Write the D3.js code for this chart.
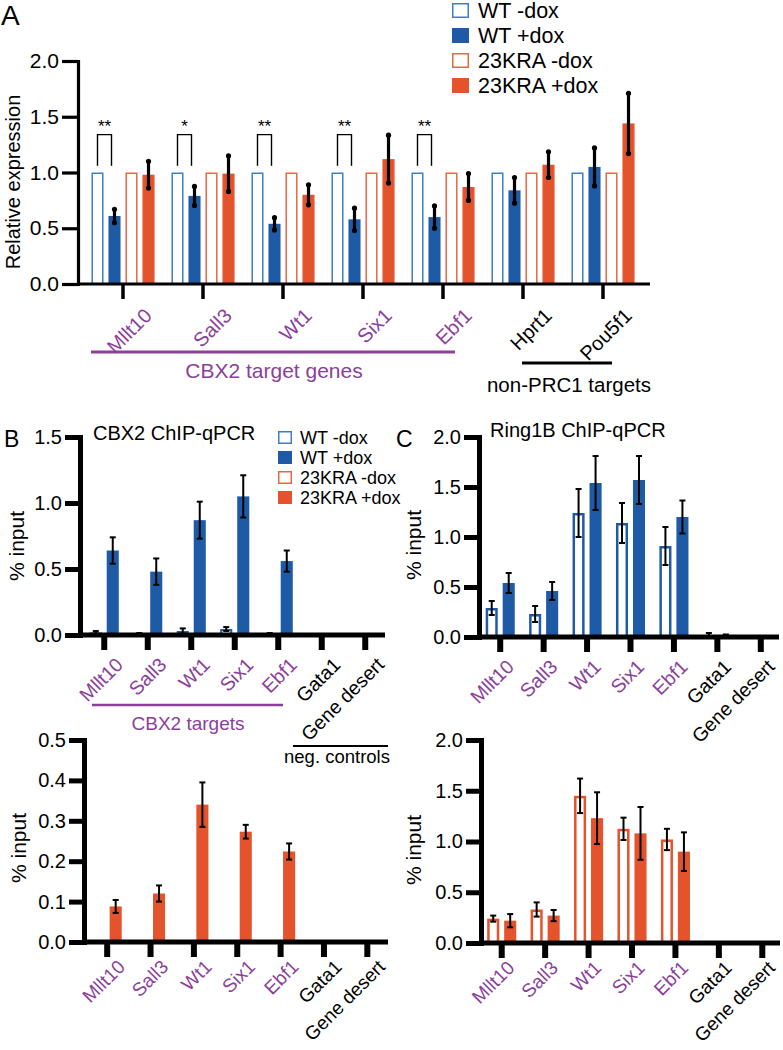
<!DOCTYPE html>
<html><head><meta charset="utf-8">
<script src="https://cdn.jsdelivr.net/npm/d3@7/dist/d3.min.js"></script>
<style>body{margin:0;background:#fff}svg{display:block}</style>
</head><body>
<script>
// ---------------- DATA ----------------
const genesA = ["Mllt10","Sall3","Wt1","Six1","Ebf1","Hprt1","Pou5f1"];
const seriesA = ["WT -dox","WT +dox","23KRA -dox","23KRA +dox"];
const wtMinusA = [1,1,1,1,1,1,1];
const wtPlusA = [0.61,0.79,0.54,0.58,0.60,0.84,1.05];
const wtPlusErrA = [0.06,0.085,0.055,0.10,0.10,0.115,0.17];
const kraMinusA = [1,1,1,1,1,1,1];
const kraPlusA = [0.98,0.99,0.80,1.12,0.87,1.07,1.44];
const kraPlusErrA = [0.12,0.16,0.09,0.215,0.12,0.115,0.27];
const sigA = ["**","*","**","**","**","",""];
const ticksA = [0,0.5,1,1.5,2];

const chipGenes = ["Mllt10","Sall3","Wt1","Six1","Ebf1","Gata1","Gene desert"];
const cbx2WtMinus = [0.02,0.01,0.03,0.045,0.01,0.005,0];
const cbx2WtMinusErr = [0.01,0.005,0.02,0.015,0.005,0.002,0];
const cbx2WtPlus = [0.64,0.48,0.87,1.05,0.56,0.003,0];
const cbx2WtPlusErr = [0.10,0.10,0.14,0.16,0.08,0.002,0];
const cbx2KraPlus = [0.088,0.12,0.34,0.273,0.224,0.002,0];
const cbx2KraPlusErr = [0.016,0.02,0.055,0.017,0.02,0,0];
const ring1bWtMinus = [0.29,0.23,1.24,1.14,0.91,0.01,0];
const ring1bWtMinusErr = [0.07,0.08,0.24,0.20,0.19,0.03,0];
const ring1bWtPlus = [0.54,0.46,1.54,1.57,1.20,0.02,0];
const ring1bWtPlusErr = [0.10,0.09,0.27,0.24,0.165,0.005,0];
const ring1bKraMinus = [0.24,0.33,1.45,1.125,1.02,0.01,0];
const ring1bKraMinusErr = [0.03,0.07,0.17,0.11,0.105,0,0];
const ring1bKraPlus = [0.22,0.27,1.23,1.08,0.90,0.01,0];
const ring1bKraPlusErr = [0.065,0.055,0.255,0.26,0.19,0,0];
const ticksB1 = [0,0.5,1,1.5];
const ticksB2 = [0,0.1,0.2,0.3,0.4,0.5];
const ticksC = [0,0.5,1,1.5,2];
const targetCount = 5;

// ---------------- STYLE ----------------
const FONT = "'Liberation Sans', Arial, Helvetica, sans-serif";
const BLUE = "#1f5aa6", BLUE_LIGHT = "#3f7dca";
const ORANGE = "#e4532b", ORANGE_LIGHT = "#ea6644";
const PURPLE = "#8b3f9b";

const svg = d3.select("body").append("svg").attr("width",783).attr("height",1050)
  .style("font-family", FONT);

function txt(x, y, s, size, opts={}) {
  const t = svg.append("text").attr("x",x).attr("y",y).text(s)
    .attr("font-size",size).attr("fill",opts.fill||"#000")
    .attr("text-anchor",opts.anchor||"start");
  if (opts.rotate) t.attr("transform",`rotate(${opts.rotate},${x},${y})`);
  return t;
}

function yAxis(scale, x, ticks, fmt, sw, tickLen, fs) {
  const ax = d3.axisLeft(scale).tickValues(ticks).tickFormat(fmt)
    .tickSize(tickLen).tickSizeOuter(0).tickPadding(3);
  const a = svg.append("g").attr("transform",`translate(${x},0)`).call(ax)
    .attr("font-family", FONT).attr("font-size", fs);
  a.select(".domain").attr("stroke","#000").attr("stroke-width",sw).attr("stroke-linecap","square");
  a.selectAll(".tick line").attr("stroke","#000").attr("stroke-width",sw);
  a.selectAll(".tick text").attr("fill","#000");
  return a;
}

function xAxis(band, y0, xStart, xEnd, sw, tickW, tickLen, fs, labelColor, off) {
  const ax = d3.axisBottom(band).tickSize(tickLen).tickSizeOuter(0);
  const a = svg.append("g").attr("transform",`translate(0,${y0})`).call(ax)
    .attr("font-family", FONT).attr("font-size", fs);
  a.select(".domain").remove();
  a.selectAll(".tick line").attr("stroke","#000").attr("stroke-width",tickW);
  a.selectAll(".tick text")
    .attr("x",0).attr("y",0).attr("dy",0)
    .attr("text-anchor","end")
    .attr("transform",`translate(${off[0]},${off[1]}) rotate(-45)`)
    .attr("fill",(d,i)=>labelColor(d,i));
  svg.append("line").attr("x1",xStart).attr("x2",xEnd).attr("y1",y0).attr("y2",y0)
    .attr("stroke","#000").attr("stroke-width",sw);
}

function bars(band, inner, yS, key, vals, style) {
  const g = svg.append("g");
  band.domain().forEach((cat,i)=>{
    const v = vals[i];
    if (!v) return;
    const x = band(cat) + band.bandwidth()/2 + inner(key);
    const w = inner.bandwidth();
    const top = yS(v), bot = yS(0);
    if (style.outline) {
      const sw = style.sw;
      g.append("rect").attr("x",x+sw/2).attr("y",top+sw/2)
        .attr("width",Math.max(0,w-sw)).attr("height",Math.max(0,bot-top-sw/2))
        .attr("fill","#fff").attr("stroke",style.color).attr("stroke-width",sw);
    } else {
      g.append("rect").attr("x",x).attr("y",top).attr("width",w)
        .attr("height",Math.max(0,bot-top)).attr("fill",style.color);
    }
  });
}

function errs(band, inner, yS, key, vals, e, style) {
  const g = svg.append("g");
  band.domain().forEach((cat,i)=>{
    if (!e[i]) return;
    const cx = band(cat) + band.bandwidth()/2 + inner(key) + inner.bandwidth()/2;
    const y1 = yS(vals[i]+e[i]), y2 = yS(Math.max(0,vals[i]-e[i]));
    g.append("line").attr("x1",cx).attr("x2",cx).attr("y1",y1).attr("y2",y2)
      .attr("stroke","#000").attr("stroke-width",style.sw);
    if (style.dots) {
      [y1,y2].forEach(yy=>g.append("circle").attr("cx",cx).attr("cy",yy).attr("r",style.r).attr("fill","#000"));
    } else {
      [y1,y2].forEach(yy=>g.append("line").attr("x1",cx-style.cap).attr("x2",cx+style.cap)
        .attr("y1",yy).attr("y2",yy).attr("stroke","#000").attr("stroke-width",style.sw));
    }
  });
}

// ================= PANEL A =================
const yA = d3.scaleLinear().domain([0,2]).range([284,61]);
const xA = d3.scaleBand().domain(genesA).range([83,643]);
const innerA = d3.scaleBand().domain(seriesA).range([-34,34]).paddingInner(0.29).paddingOuter(0.145);

txt(1,25,"A",28);
bars(xA, innerA, yA, seriesA[0], wtMinusA, {outline:true, color:BLUE_LIGHT, sw:1.5});
bars(xA, innerA, yA, seriesA[1], wtPlusA, {color:BLUE});
bars(xA, innerA, yA, seriesA[2], kraMinusA, {outline:true, color:ORANGE_LIGHT, sw:1.5});
bars(xA, innerA, yA, seriesA[3], kraPlusA, {color:ORANGE});
errs(xA, innerA, yA, seriesA[1], wtPlusA, wtPlusErrA, {sw:3.2, dots:true, r:2.6});
errs(xA, innerA, yA, seriesA[3], kraPlusA, kraPlusErrA, {sw:3.2, dots:true, r:2.6});

// significance brackets
genesA.forEach((g,i)=>{
  if (!sigA[i]) return;
  const c0 = xA(g) + xA.bandwidth()/2 + innerA(seriesA[0]) + innerA.bandwidth()/2;
  const c1 = xA(g) + xA.bandwidth()/2 + innerA(seriesA[1]) + innerA.bandwidth()/2 - 3;
  const top = yA(1.34), bot = yA(1.06);
  svg.append("path").attr("d",`M${c0},${bot}V${top}H${c1}V${bot}`)
    .attr("fill","none").attr("stroke","#000").attr("stroke-width",1.4);
  txt((c0+c1)/2, 132, sigA[i], 17, {anchor:"middle"});
});

yAxis(yA, 78, ticksA, d3.format(".1f"), 3.2, 16, 21);
xAxis(xA, yA(0), 78, 650, 3.2, 3.5, 15, 20, (d,i)=> i<targetCount ? PURPLE : "#000", [30,33]);
txt(20,182,"Relative expression",20,{anchor:"middle",rotate:-90});

// legend A
const legA = [
  {k:seriesA[0], outline:true, c:BLUE_LIGHT},
  {k:seriesA[1], outline:false, c:BLUE},
  {k:seriesA[2], outline:true, c:ORANGE_LIGHT},
  {k:seriesA[3], outline:false, c:ORANGE}];
legA.forEach((l,i)=>{
  const y = 3 + i*25;
  if (l.outline) svg.append("rect").attr("x",452.75).attr("y",y+0.75).attr("width",15.5).attr("height",13.5)
      .attr("fill","#fff").attr("stroke",l.c).attr("stroke-width",1.5);
  else svg.append("rect").attr("x",452).attr("y",y).attr("width",17).attr("height",15).attr("fill",l.c);
  txt(478, y+15, l.k, 21.5);
});

// group annotations A
svg.append("line").attr("x1",91).attr("x2",455).attr("y1",352).attr("y2",352).attr("stroke",PURPLE).attr("stroke-width",3);
txt(274,378,"CBX2 target genes",21,{anchor:"middle",fill:PURPLE});
svg.append("line").attr("x1",522).attr("x2",612).attr("y1",363).attr("y2",363).attr("stroke","#000").attr("stroke-width",3);
txt(569,392,"non-PRC1 targets",20.5,{anchor:"middle"});

// ================= PANEL B =================
const pair = ["-dox","+dox"];
const chipColor = (d,i)=> i<targetCount ? PURPLE : "#000";
const yB1 = d3.scaleLinear().domain([0,1.5]).range([635,437]);
const xB1 = d3.scaleBand().domain(chipGenes).range([82.5,387]);
const innerB = d3.scaleBand().domain(pair).range([-17,17]).paddingInner(0.29).paddingOuter(0.145);

txt(4,447,"B",23);
txt(93,440,"CBX2 ChIP-qPCR",20);
bars(xB1, innerB, yB1, "-dox", cbx2WtMinus, {outline:true, color:BLUE, sw:2});
bars(xB1, innerB, yB1, "+dox", cbx2WtPlus, {color:BLUE});
errs(xB1, innerB, yB1, "-dox", cbx2WtMinus, cbx2WtMinusErr, {sw:2, cap:3});
errs(xB1, innerB, yB1, "+dox", cbx2WtPlus, cbx2WtPlusErr, {sw:2, cap:3});
yAxis(yB1, 80, ticksB1, d3.format(".1f"), 5, 15, 20);
xAxis(xB1, yB1(0), 80, 385, 5, 6, 15, 19.5, chipColor, [20,31]);
txt(24,546,"% input",21,{anchor:"middle",rotate:-90});

// legend B
const legB = [
  {k:seriesA[0], outline:true, c:BLUE_LIGHT},
  {k:seriesA[1], outline:false, c:BLUE},
  {k:seriesA[2], outline:true, c:ORANGE_LIGHT},
  {k:seriesA[3], outline:false, c:ORANGE}];
legB.forEach((l,i)=>{
  const y = 431 + i*20;
  if (l.outline) svg.append("rect").attr("x",278.75).attr("y",y+0.75).attr("width",12.5).attr("height",11.5)
      .attr("fill","#fff").attr("stroke",l.c).attr("stroke-width",1.5);
  else svg.append("rect").attr("x",278).attr("y",y).attr("width",14).attr("height",13).attr("fill",l.c);
  txt(300, y+12.5, l.k, 18);
});

// B bottom
const yB2 = d3.scaleLinear().domain([0,0.5]).range([942,740]);
const xB2 = d3.scaleBand().domain(chipGenes).range([85.5,389]);
bars(xB2, innerB, yB2, "+dox", cbx2KraPlus, {color:ORANGE});
errs(xB2, innerB, yB2, "+dox", cbx2KraPlus, cbx2KraPlusErr, {sw:2, cap:3});
yAxis(yB2, 84, ticksB2, d3.format(".1f"), 5, 15, 20);
xAxis(xB2, yB2(0), 84, 388, 5, 6, 15, 19, chipColor, [19,26]);
txt(26,848,"% input",21,{anchor:"middle",rotate:-90});

svg.append("line").attr("x1",92).attr("x2",283).attr("y1",705).attr("y2",705).attr("stroke",PURPLE).attr("stroke-width",2.5);
txt(188,730,"CBX2 targets",19,{anchor:"middle",fill:PURPLE});
svg.append("line").attr("x1",293).attr("x2",388).attr("y1",746).attr("y2",746).attr("stroke","#000").attr("stroke-width",2);
txt(337,763,"neg. controls",18.5,{anchor:"middle"});

// ================= PANEL C =================
const yC1 = d3.scaleLinear().domain([0,2]).range([637,437]);
const xC1 = d3.scaleBand().domain(chipGenes).range([478.5,782.5]);
txt(396,447,"C",23);
txt(490,437,"Ring1B ChIP-qPCR",20);
bars(xC1, innerB, yC1, "-dox", ring1bWtMinus, {outline:true, color:BLUE, sw:2.5});
bars(xC1, innerB, yC1, "+dox", ring1bWtPlus, {color:BLUE});
errs(xC1, innerB, yC1, "-dox", ring1bWtMinus, ring1bWtMinusErr, {sw:2, cap:3});
errs(xC1, innerB, yC1, "+dox", ring1bWtPlus, ring1bWtPlusErr, {sw:2, cap:3});
yAxis(yC1, 479, ticksC, d3.format(".1f"), 5, 15, 20);
xAxis(xC1, yC1(0), 479, 779, 5, 6, 15, 19.5, chipColor, [15,31]);
txt(421,545,"% input",21,{anchor:"middle",rotate:-90});

const yC2 = d3.scaleLinear().domain([0,2]).range([943,740]);
const xC2 = d3.scaleBand().domain(chipGenes).range([480,784]);
bars(xC2, innerB, yC2, "-dox", ring1bKraMinus, {outline:true, color:ORANGE, sw:2.5});
bars(xC2, innerB, yC2, "+dox", ring1bKraPlus, {color:ORANGE});
errs(xC2, innerB, yC2, "-dox", ring1bKraMinus, ring1bKraMinusErr, {sw:2, cap:3});
errs(xC2, innerB, yC2, "+dox", ring1bKraPlus, ring1bKraPlusErr, {sw:2, cap:3});
yAxis(yC2, 481, ticksC, d3.format(".1f"), 5, 15, 20);
xAxis(xC2, yC2(0), 481, 780, 5, 6, 15, 19, chipColor, [14,26]);
txt(421,850,"% input",21,{anchor:"middle",rotate:-90});
</script>
</body></html>
